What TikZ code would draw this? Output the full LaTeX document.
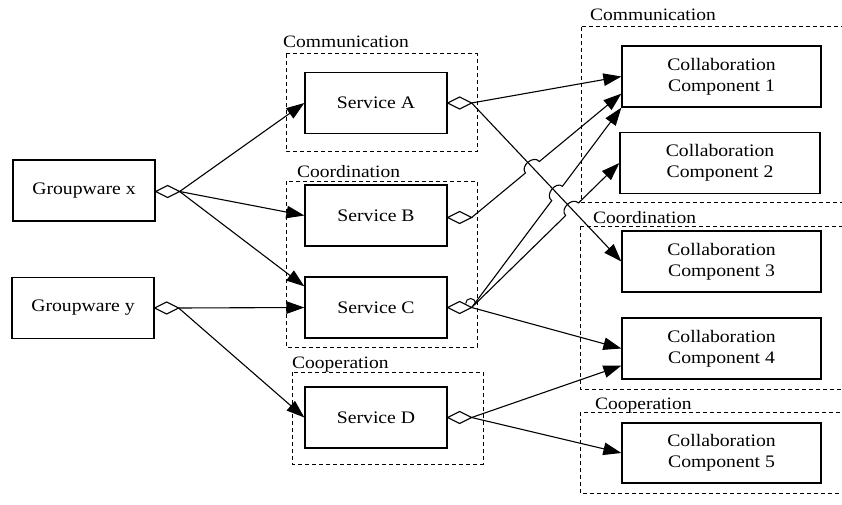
\documentclass[tikz,border=0pt]{standalone}
\usepackage{fontspec}
\setmainfont{Liberation Serif}[FakeStretch=1.12]
\usetikzlibrary{arrows.meta,calc,intersections}
\begin{document}
\begin{tikzpicture}[x=1pt,y=-1pt,
  box/.style={draw,line width=1.3pt,minimum width=142pt,minimum height=61pt,inner sep=0pt,align=center,font=\fontsize{17.6}{20.7}\selectfont},
  ccbox/.style={box,minimum width=199pt},
  group/.style={draw,dash pattern=on 4pt off 3pt,line width=1pt},
  glabel/.style={anchor=base west,inner sep=0pt,font=\fontsize{17.4}{20}\selectfont},
  conn/.style={line width=1.1pt,-{Triangle[length=18pt,width=12.5pt]}},
  dia/.style={line width=1.1pt,fill=white}
]
\useasboundingbox (0,0) rectangle (842,505);
\clip (0,0) rectangle (842,505);

% group frames
\draw[group] (286,54) rectangle (477,152);
\draw[group] (286,181) rectangle (477,347);
\draw[group] (292,372) rectangle (483,464);
\draw[group] (581,27) rectangle (860,202);
\draw[group] (580,226) rectangle (860,389);
\draw[group] (580,412) rectangle (860,493);

\node[glabel] (l1) at (283,48) {Communication};
\node[glabel] (l2) at (297,177) {Coordination};
\node[glabel] (l3) at (292,368.5) {Cooperation};
\node[glabel] (l4) at (590,21) {Communication};
\node[glabel] (l5) at (593,223) {Coordination};
\node[glabel] (l6) at (595,409) {Cooperation};

% nodes
\node[box] (Gx) at (84,190.5) {Groupware x};
\node[box] (Gy) at (83,308) {Groupware y};
\node[box] (A) at (376,103) {Service A};
\node[box] (B) at (376,215.5) {Service B};
\node[box] (C) at (376,307.5) {Service C};
\node[box] (D) at (376,417.5) {Service D};
\node[ccbox] (K1) at (721.5,76.5) {Collaboration\\Component 1};
\node[ccbox,minimum width=200pt] (K2) at (720,163) {Collaboration\\Component 2};
\node[ccbox] (K3) at (721.5,261.5) {Collaboration\\Component 3};
\node[ccbox] (K4) at (721.5,348.5) {Collaboration\\Component 4};
\node[ccbox,minimum height=60pt] (K5) at (721.5,453) {Collaboration\\Component 5};

% diamond tips
\coordinate (Gxs) at ($(Gx.east)+(0,1)$);
\coordinate (Gys) at (Gy.east);
\coordinate (As) at (A.east);
\coordinate (Bs) at ($(B.east)+(0,2)$);
\coordinate (Cs) at (C.east);
\coordinate (Ds) at (D.east);
\foreach \s/\t in {Gxs/Gxd,Gys/Gyd,As/Ad,Bs/Bd,Cs/Cd,Ds/Dd}{
  \coordinate (\t) at ($(\s)+(24,0)$);
}

% target points
\coordinate (tC) at ($(C.north west)+(0,10)$);
\coordinate (tK1b) at ($(K1.south west)+(0,-14)$);
\coordinate (tK4b) at ($(K4.south west)+(0,-14)$);

% straight connectors
\draw[conn] (Gxd) -- (A.west);
\draw[conn] (Gxd) -- (B.west);
\draw[conn] (Gxd) -- (tC);
\draw[conn] (Gyd) -- (C.west);
\draw[conn] (Gyd) -- (D.west);
\draw[conn] (Ad) -- (K1.west);
\draw[conn, name path=pA3] (Ad) -- (K3.west);
\draw[conn] (Cd) -- (K4.west);
\draw[conn] (Dd) -- (tK4b);
\draw[conn] (Dd) -- (K5.west);

% connectors with hops over A -> Component 3
\path[name path=pB1] (Bd) -- (tK1b);
\path[name path=pC1] (Cd) -- (K1.south west);
\path[name path=pC2] (Cd) -- (K2.west);
\path[name intersections={of=pA3 and pB1,by=xB}];
\path[name intersections={of=pA3 and pC1,by=xC}];
\path[name intersections={of=pA3 and pC2,by=xD}];
\coordinate (xB1) at ($(xB)!9pt!(Bd)$);
\coordinate (xB2) at ($(xB)!9pt!(tK1b)$);
\coordinate (xC1) at ($(xC)!9pt!(Cd)$);
\coordinate (xC2) at ($(xC)!9pt!(K1.south west)$);
\coordinate (xD1) at ($(xD)!9pt!(Cd)$);
\coordinate (xD2) at ($(xD)!9pt!(K2.west)$);
\draw[conn] (Bd) -- (xB1) .. controls ($(xB1)!9pt!90:(xB)$) and ($(xB2)!9pt!-90:(xB)$) .. (xB2) -- (tK1b);
\draw[conn] (Cd) -- (xC1) .. controls ($(xC1)!9pt!90:(xC)$) and ($(xC2)!9pt!-90:(xC)$) .. (xC2) -- (K1.south west);
\draw[conn] (Cd) -- (xD1) .. controls ($(xD1)!9pt!90:(xD)$) and ($(xD2)!9pt!-90:(xD)$) .. (xD2) -- (K2.west);
\draw[line width=1pt] ($(Cd)+(-6,-4)$) arc[start angle=180,end angle=360,radius=5];

% diamonds
\foreach \s in {Gxs,Gys,As,Bs,Cs,Ds}{
  \draw[dia] (\s) -- ++(12,-6) -- ++(12,6) -- ++(-12,6) -- cycle;
}
\end{tikzpicture}
\end{document}
